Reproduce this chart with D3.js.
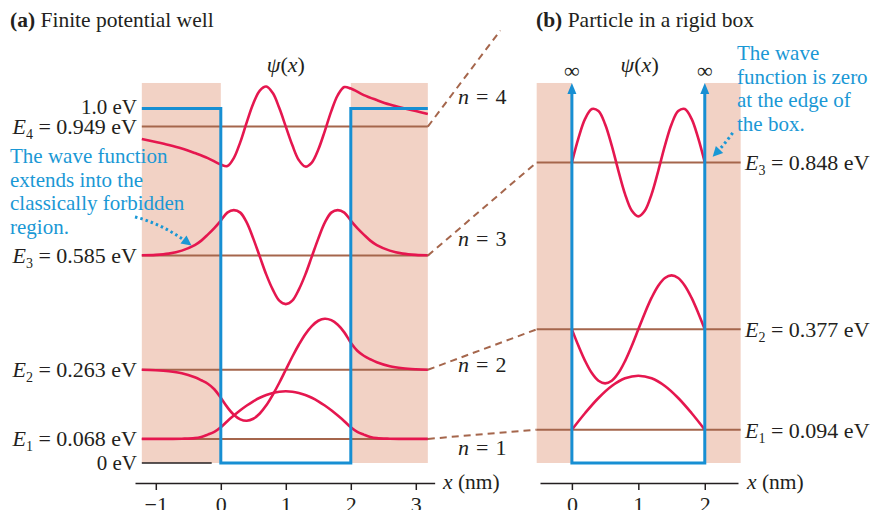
<!DOCTYPE html>
<html><head><meta charset="utf-8">
<script src="https://cdn.jsdelivr.net/npm/d3@7"></script>
<style>
body{margin:0;background:#fff}
svg{display:block}
text{font-family:"Liberation Serif","Times New Roman",serif;fill:#231f20}
</style>
</head><body>
<svg id="c" width="872" height="510"></svg>
<script>
// ---------------- data ----------------
const levelsA = [0.068, 0.263, 0.585, 0.949];   // finite well energies (eV)
const levelsB = [0.094, 0.377, 0.848];          // rigid box energies (eV)
const wellTop = 1.0;                            // U0 (eV)
const ticksA = [-1, 0, 1, 2, 3];
const ticksB = [0, 1, 2];
const nValues = [1, 2, 3, 4];

// wave functions, [x (nm), psi (a.u.)]
const psiA1 = [[-1.215,0],[-0.8,0],[-0.6,0.2],[-0.4,0.8],[-0.3,2],[-0.2,4.3],[-0.1,7],[0,11.6],[0.1,17.7],[0.2,23.3],[0.3,28.6],[0.4,33.4],[0.5,37.6],[0.6,41.1],[0.7,43.9],[0.8,45.9],[0.9,47.2],[1.0,47.6],[1.1,47.2],[1.2,45.9],[1.3,43.9],[1.4,41.1],[1.5,37.6],[1.6,33.4],[1.7,28.6],[1.8,23.3],[1.9,17.7],[2.0,11.6],[2.1,7],[2.2,4.3],[2.3,2],[2.4,0.8],[2.6,0.2],[2.8,0],[3.185,0]];
const psiA2 = [[-1.215,0],[-1.0,-0.5],[-0.8,-1.5],[-0.6,-3.5],[-0.4,-7.5],[-0.3,-10.5],[-0.2,-14],[-0.1,-19.5],[0,-28],[0.1,-37.4],[0.2,-45],[0.3,-49.6],[0.4,-51],[0.5,-49],[0.6,-43.7],[0.7,-35.6],[0.8,-25],[0.9,-13],[1.0,0],[1.1,13],[1.2,25],[1.3,35.6],[1.4,43.7],[1.5,49],[1.6,51],[1.7,49.6],[1.8,45],[1.9,37.4],[2.0,27],[2.1,19],[2.2,14],[2.3,10.5],[2.4,7.5],[2.6,3.5],[2.8,1.5],[3.0,0.5],[3.185,0]];
const psiA3 = [[-1.215,0.3],[-1.0,0.7],[-0.8,2],[-0.6,5],[-0.4,10.5],[-0.3,15],[-0.2,21],[-0.1,27.5],[0,35],[0.1,43],[0.2,45.5],[0.3,43],[0.4,33],[0.5,17],[0.6,-1],[0.7,-19],[0.8,-34],[0.9,-45],[1.0,-48.5],[1.1,-45],[1.2,-34],[1.3,-19],[1.4,-1],[1.5,17],[1.6,33],[1.7,43],[1.8,45.5],[1.9,43],[2.0,35],[2.1,27.5],[2.2,21],[2.3,15],[2.4,10.5],[2.6,5],[2.8,2],[3.0,0.7],[3.185,0.3]];
const psiA4 = [[-1.215,-12.5],[-1.0,-15.5],[-0.8,-18.5],[-0.6,-22],[-0.4,-26.5],[-0.2,-31.5],[0,-38],[0.1,-39.5],[0.2,-31.5],[0.3,-15.5],[0.4,4.5],[0.5,23],[0.6,36],[0.7,40],[0.8,33.5],[0.9,18.5],[1.0,0],[1.1,-18.5],[1.2,-33.5],[1.3,-40],[1.4,-36],[1.5,-23],[1.6,-4.5],[1.7,15.5],[1.8,31.5],[1.9,39.5],[2.0,38],[2.2,31.5],[2.4,26.5],[2.6,22],[2.8,18.5],[3.0,15.5],[3.185,12.5]];
const psiB1 = [[0,0],[0.2,16.7],[0.4,31.7],[0.6,43.7],[0.8,51.4],[1.0,54],[1.2,51.4],[1.4,43.7],[1.6,31.7],[1.8,16.7],[2.0,0]];
const psiB2 = [[0,0],[0.1,-16.7],[0.2,-31.7],[0.3,-43.7],[0.4,-51.4],[0.5,-54],[0.6,-51.4],[0.7,-43.7],[0.8,-31.7],[0.9,-16.7],[1.0,0],[1.1,16.7],[1.2,31.7],[1.3,43.7],[1.4,51.4],[1.5,54],[1.6,51.4],[1.7,43.7],[1.8,31.7],[1.9,16.7],[2.0,0]];
const psiB3 = [[0,0],[0.1,24.5],[0.2,43.7],[0.3,53.4],[0.4,51.4],[0.5,38.2],[0.6,16.7],[0.7,-8.4],[0.8,-31.7],[0.9,-48.1],[1.0,-54],[1.1,-48.1],[1.2,-31.7],[1.3,-8.4],[1.4,16.7],[1.5,38.2],[1.6,51.4],[1.7,53.4],[1.8,43.7],[1.9,24.5],[2.0,0]];
const psiA = [psiA1, psiA2, psiA3, psiA4];
const psiB = [psiB1, psiB2, psiB3];

// ---------------- style ----------------
const C = {pink:"#f2d2c5", blue:"#178fd3", red:"#e5174f", brown:"#a5664c", note:"#1a98d5", ink:"#231f20"};

// ---------------- scales ----------------
const svg = d3.select("#c");
const xa = d3.scaleLinear().domain([-1.32, 3.29]).range([135, 434.65]);
const xb = d3.scaleLinear().domain([-0.48, 2.5]).range([540, 738]);
const yE = d3.scaleLinear().domain([0, 1]).range([463, 108.5]);
const psiS = d3.scaleLinear().domain([0, 100]).range([0, 100/354.5]);
const shadeTop = 1.072, aL = -1.215, aR = 3.185, bL = -0.53, bR = 2.54;

const curve = d3.curveCatmullRom.alpha(0.5);
function waveLine(xs, E){
  return d3.line().curve(curve).x(d => xs(d[0])).y(d => yE(E + psiS(d[1])));
}

// ---------------- panel (a) ----------------
const ga = svg.append("g");
ga.append("rect").attr("x", xa(aL)).attr("y", yE(shadeTop)).attr("width", xa(0)-xa(aL)).attr("height", yE(0)-yE(shadeTop)).attr("fill", C.pink);
ga.append("rect").attr("x", xa(2)).attr("y", yE(shadeTop)).attr("width", xa(aR)-xa(2)).attr("height", yE(0)-yE(shadeTop)).attr("fill", C.pink);

levelsA.forEach(E => {
  ga.append("line").attr("x1", xa(aL)).attr("x2", xa(aR)).attr("y1", yE(E)).attr("y2", yE(E))
    .attr("stroke", C.brown).attr("stroke-width", 2);
});
ga.append("line").attr("x1", xa(aL)).attr("x2", xa(-0.14)).attr("y1", yE(0)).attr("y2", yE(0))
  .attr("stroke", C.ink).attr("stroke-width", 1.5);

psiA.forEach((p, i) => {
  ga.append("path").attr("d", waveLine(xa, levelsA[i])(p)).attr("fill", "none")
    .attr("stroke", C.red).attr("stroke-width", 2.6).attr("stroke-linejoin", "round");
});

ga.append("path").attr("d", `M${xa(aL)},${yE(wellTop)}H${xa(0)}V${yE(0)}H${xa(2)}V${yE(wellTop)}H${xa(aR)}`)
  .attr("fill", "none").attr("stroke", C.blue).attr("stroke-width", 3);

// axis a
const axA = svg.append("g").attr("transform", "translate(0,483)")
  .call(d3.axisBottom(xa).tickValues(ticksA).tickSize(7).tickSizeOuter(0).tickFormat(d3.format("d")));
axA.select(".domain").attr("stroke", C.ink).attr("stroke-width", 1.5);
axA.selectAll(".tick line").attr("stroke", C.ink).attr("stroke-width", 1.5);
axA.selectAll(".tick text").attr("y", 13).attr("font-size", 22).attr("font-family", "Liberation Serif").attr("fill", C.ink);

// panel (a) labels
function eLabel(g, x, y, n, E, anchor){
  const t = g.append("text").attr("x", x).attr("y", y).attr("font-size", 22).attr("text-anchor", anchor);
  t.append("tspan").attr("font-style", "italic").text("E");
  t.append("tspan").attr("font-size", 14).attr("dy", 5).text(n);
  t.append("tspan").attr("dy", -5).text(" = " + d3.format(".3f")(E) + " eV");
}
levelsA.forEach((E, i) => eLabel(svg, 137, yE(E) + 7, i + 1, E, "end"));
svg.append("text").attr("x", 137).attr("y", yE(wellTop) + 5).attr("font-size", 21).attr("text-anchor", "end").text("1.0 eV");
svg.append("text").attr("x", 137).attr("y", yE(0) + 7).attr("font-size", 21).attr("text-anchor", "end").text("0 eV");

function psiLabel(x){
  const t = svg.append("text").attr("x", x).attr("y", 72).attr("font-size", 22).attr("text-anchor", "middle");
  t.append("tspan").attr("font-style", "italic").text("ψ");
  t.append("tspan").text("(");
  t.append("tspan").attr("font-style", "italic").text("x");
  t.append("tspan").text(")");
}
psiLabel(xa(1));
psiLabel(xb(1.02));

function title(x, a, rest){
  const t = svg.append("text").attr("x", x).attr("y", 27).attr("font-size", 21.5);
  t.append("tspan").attr("font-weight", "bold").text(a);
  t.append("tspan").text(rest);
}
title(10, "(a)", " Finite potential well");
title(536, "(b)", " Particle in a rigid box");

function xLabel(x){
  const t = svg.append("text").attr("x", x).attr("y", 489).attr("font-size", 21.5);
  t.append("tspan").attr("font-style", "italic").text("x");
  t.append("tspan").text(" (nm)");
}
xLabel(443);
xLabel(747);

// ---------------- panel (b) ----------------
const gb = svg.append("g");
gb.append("rect").attr("x", xb(bL)).attr("y", yE(shadeTop)).attr("width", xb(0)-xb(bL)).attr("height", yE(0)-yE(shadeTop)).attr("fill", C.pink);
gb.append("rect").attr("x", xb(2)).attr("y", yE(shadeTop)).attr("width", xb(bR)-xb(2)).attr("height", yE(0)-yE(shadeTop)).attr("fill", C.pink);
levelsB.forEach(E => {
  gb.append("line").attr("x1", xb(bL)).attr("x2", xb(bR)).attr("y1", yE(E)).attr("y2", yE(E))
    .attr("stroke", C.brown).attr("stroke-width", 2);
});
psiB.forEach((p, i) => {
  gb.append("path").attr("d", waveLine(xb, levelsB[i])(p)).attr("fill", "none")
    .attr("stroke", C.red).attr("stroke-width", 2.6).attr("stroke-linejoin", "round");
});
const arrowTop = yE(shadeTop);
gb.append("path").attr("d", `M${xb(0)},${arrowTop + 8}V${yE(0)}H${xb(2)}V${arrowTop + 8}`)
  .attr("fill", "none").attr("stroke", C.blue).attr("stroke-width", 3);
[0, 2].forEach(v => {
  const x = xb(v);
  gb.append("path").attr("d", `M${x},${arrowTop}L${x - 4.5},${arrowTop + 11}L${x + 4.5},${arrowTop + 11}Z`).attr("fill", C.blue);
  svg.append("text").attr("x", x).attr("y", 78).attr("font-size", 22).attr("text-anchor", "middle").text("∞");
});
levelsB.forEach((E, i) => eLabel(svg, 745, yE(E) + 8, i + 1, E, "start"));

const axB = svg.append("g").attr("transform", "translate(0,483)")
  .call(d3.axisBottom(xb).tickValues(ticksB).tickSize(7).tickSizeOuter(0).tickFormat(d3.format("d")));
axB.select(".domain").attr("stroke", C.ink).attr("stroke-width", 1.5);
axB.selectAll(".tick line").attr("stroke", C.ink).attr("stroke-width", 1.5);
axB.selectAll(".tick text").attr("y", 13).attr("font-size", 22).attr("font-family", "Liberation Serif").attr("fill", C.ink);

// ---------------- connectors ----------------
levelsB.forEach((E, i) => {
  svg.append("line").attr("x1", xa(aR)).attr("y1", yE(levelsA[i])).attr("x2", xb(bL)).attr("y2", yE(E))
    .attr("stroke", C.brown).attr("stroke-width", 2).attr("stroke-dasharray", "7,5");
});
svg.append("line").attr("x1", xa(aR)).attr("y1", yE(levelsA[3])).attr("x2", xa(4.3)).attr("y2", yE(1.22))
  .attr("stroke", C.brown).attr("stroke-width", 2).attr("stroke-dasharray", "7,5");
const nPos = [[458, 455], [458, 372], [458, 246], [458, 104]];
nValues.forEach((n, i) => {
  const t = svg.append("text").attr("x", nPos[i][0]).attr("y", nPos[i][1]).attr("font-size", 22);
  t.append("tspan").attr("font-style", "italic").text("n");
  t.append("tspan").attr("dx", 7).text("=");
  t.append("tspan").attr("dx", 7).text(n);
});

// ---------------- annotations ----------------
function note(x, y0, lines){
  lines.forEach((s, i) => svg.append("text").attr("x", x).attr("y", y0 + i * 23.7).attr("font-size", 21).style("fill", C.note).text(s));
}
note(10, 163, ["The wave function", "extends into the", "classically forbidden", "region."]);
note(737, 60, ["The wave", "function is zero", "at the edge of", "the box."]);

function dotArrow(p0, pc, p1){
  svg.append("path").attr("d", `M${p0[0]},${p0[1]}Q${pc[0]},${pc[1]} ${p1[0]},${p1[1]}`)
    .attr("fill", "none").attr("stroke", C.note).attr("stroke-width", 3).attr("stroke-dasharray", "2.5,3");
  const ang = Math.atan2(p1[1] - pc[1], p1[0] - pc[0]);
  const L = 10, W = 5;
  const tip = [p1[0] + Math.cos(ang) * 4, p1[1] + Math.sin(ang) * 4];
  const bx = tip[0] - Math.cos(ang) * L, by = tip[1] - Math.sin(ang) * L;
  svg.append("path").attr("d", `M${tip[0]},${tip[1]}L${bx - Math.sin(ang) * W},${by + Math.cos(ang) * W}L${bx + Math.sin(ang) * W},${by - Math.cos(ang) * W}Z`).attr("fill", C.note);
}
dotArrow([xa(-1.32), yE(0.694)], [xa(-0.89), yE(0.674)], [xa(-0.5), yE(0.62)]);
dotArrow([xb(2.42), yE(0.931)], [xb(2.3), yE(0.9)], [xb(2.16), yE(0.872)]);
</script>
</body></html>
